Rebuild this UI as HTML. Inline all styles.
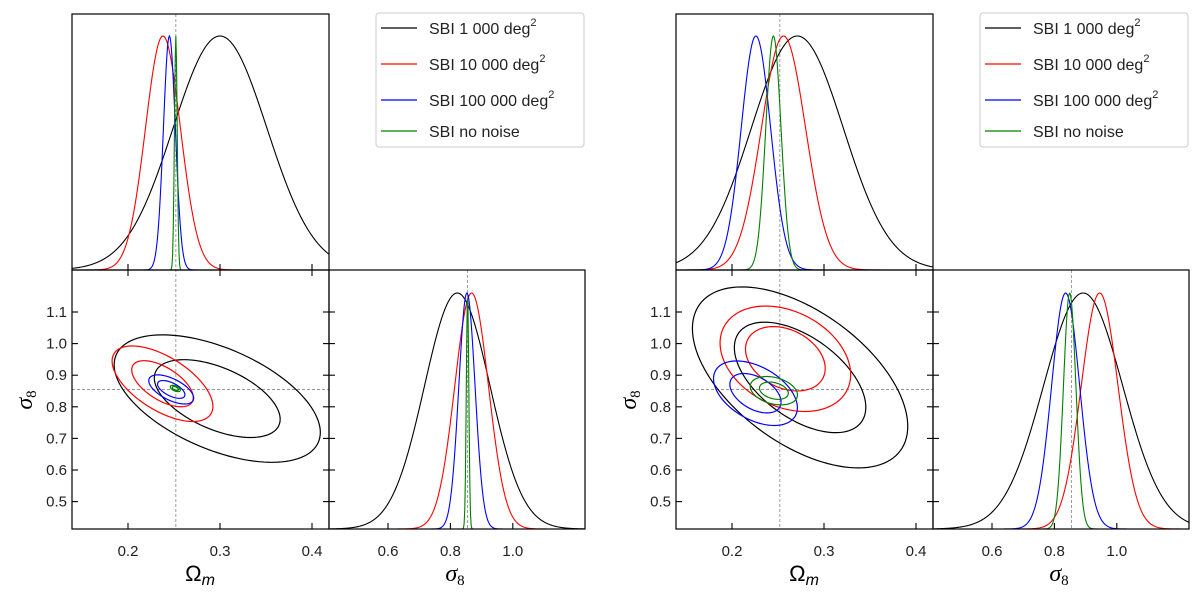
<!DOCTYPE html>
<html><head><meta charset="utf-8"><style>
html,body{margin:0;padding:0;background:#fff;}
svg{display:block;font-family:"Liberation Sans","DejaVu Sans",sans-serif;}
</style></head><body>
<svg id="chart" width="1200" height="596" viewBox="0 0 1200 596" xmlns="http://www.w3.org/2000/svg"></svg>
<script>
// ---- data ----
const seriesNames = ["SBI 1 000 deg", "SBI 10 000 deg", "SBI 100 000 deg", "SBI no noise"];
const seriesColors = ["#000000", "#ff0000", "#0000ff", "#008000"];
const truthOmega = 0.252;
const truthSigma = 0.855;
const omegaTicks = [0.2, 0.3, 0.4];
const sigmaYTicks = [0.5, 0.6, 0.7, 0.8, 0.9, 1.0, 1.1];
const sigmaXTicks = [0.6, 0.8, 1.0];
// left figure
const leftOmegaMean = [0.300, 0.238, 0.245, 0.252];
const leftOmegaSd = [0.051, 0.019, 0.0065, 0.0015];
const leftSigmaMean = [0.822, 0.868, 0.853, 0.855];
const leftSigmaSd = [0.105, 0.054, 0.026, 0.004];
const leftContCx = [0.297, 0.2375, 0.247, 0.2515];
const leftContCy = [0.826, 0.873, 0.855, 0.858];
const leftContSx = [0.045, 0.022, 0.0098, 0.0022];
const leftContSy = [0.081, 0.048, 0.0185, 0.004];
const leftContRho = [-0.53, -0.6, -0.6, -0.5];
// right figure
const rightOmegaMean = [0.271, 0.256, 0.226, 0.245];
const rightOmegaSd = [0.050, 0.024, 0.016, 0.0083];
const rightSigmaMean = [0.892, 0.945, 0.836, 0.849];
const rightSigmaSd = [0.127, 0.059, 0.045, 0.020];
const rightContCx = [0.274, 0.258, 0.2255, 0.2455];
const rightContCy = [0.893, 0.952, 0.843, 0.851];
const rightContSx = [0.047, 0.0285, 0.0183, 0.0103];
const rightContSy = [0.115, 0.067, 0.041, 0.018];
const rightContRho = [-0.54, -0.3, -0.45, -0.3];
const contourLevels = [1.52, 2.49];

const NS = "http://www.w3.org/2000/svg";
const svg = document.getElementById("chart");
function mk(tag, attrs, parent) {
  const e = document.createElementNS(NS, tag);
  for (const k in attrs) e.setAttribute(k, attrs[k]);
  (parent || svg).appendChild(e);
  return e;
}
const P = {x0: 72, x1: 329, x2: 585, yT: 14, yM: 270, yB: 529};
const OMIN = 0.139, OMAX = 0.418, SMIN = 0.415, SMAX = 1.232;
function fig(off, d, name) {
  const g = mk("g", {});
  
  
  const ox = v => off + 128 + (v - 0.2) * 920;
  const sy = v => 312 + (1.1 - v) * 316;
  const sx = v => off + 388 + (v - 0.6) * 312;
  const X0 = off + P.x0, X1 = off + P.x1, X2 = off + P.x2;
  const cid = name + "-clip";
  const cp = mk("clipPath", {id: cid}, g);
  mk("rect", {x: X0, y: P.yT, width: X1 - X0, height: P.yB - P.yT}, cp);
  const cid2 = name + "-clip2";
  const cp2 = mk("clipPath", {id: cid2}, g);
  mk("rect", {x: X1, y: P.yM, width: X2 - X1, height: P.yB - P.yM}, cp2);

  const dash = {stroke: "#888", "stroke-width": 0.8, "stroke-dasharray": "3,2", fill: "none"};
  let l = mk("line", Object.assign({x1: ox(truthOmega), x2: ox(truthOmega), y1: P.yT, y2: P.yB}, dash), g);
   
  l = mk("line", Object.assign({x1: X0, x2: X1, y1: sy(truthSigma), y2: sy(truthSigma)}, dash), g);
   
  l = mk("line", Object.assign({x1: sx(truthSigma), x2: sx(truthSigma), y1: P.yM, y2: P.yB}, dash), g);
   

  const peakTop = 36, peakBot = 293;
  for (let i = 0; i < 4; i++) {
    const col = seriesColors[i];
    let pts = [];
    for (let k = 0; k <= 400; k++) {
      const v = OMIN + (OMAX - OMIN) * k / 400;
      const z = (v - d.om[i]) / d.os[i];
      pts.push(ox(v).toFixed(2) + "," + (P.yM - (P.yM - peakTop) * Math.exp(-0.5 * z * z)).toFixed(2));
    }
    let p = mk("polyline", {points: pts.join(" "), fill: "none", stroke: col, "stroke-width": 1.1, "clip-path": "url(#" + cid + ")"}, g);
     
    pts = [];
    for (let k = 0; k <= 400; k++) {
      const v = SMIN + (SMAX - SMIN) * k / 400;
      const z = (v - d.sm[i]) / d.ss[i];
      pts.push(sx(v).toFixed(2) + "," + (P.yB - (P.yB - peakBot) * Math.exp(-0.5 * z * z)).toFixed(2));
    }
    p = mk("polyline", {points: pts.join(" "), fill: "none", stroke: col, "stroke-width": 1.1, "clip-path": "url(#" + cid2 + ")"}, g);
     
    for (const lev of contourLevels) {
      pts = [];
      const r = d.rho[i], q = Math.sqrt(1 - r * r);
      for (let k = 0; k <= 120; k++) {
        const t = 2 * Math.PI * k / 120;
        const vx = d.cx[i] + lev * d.sx[i] * Math.cos(t);
        const vy = d.cy[i] + lev * d.sy[i] * (r * Math.cos(t) + q * Math.sin(t));
        pts.push(ox(vx).toFixed(2) + "," + sy(vy).toFixed(2));
      }
      p = mk("polyline", {points: pts.join(" "), fill: "none", stroke: col, "stroke-width": 1.2, "clip-path": "url(#" + cid + ")"}, g);
       
    }
  }
  const fr = {fill: "none", stroke: "#000", "stroke-width": 1.2};
  let r = mk("rect", Object.assign({x: X0, y: P.yT, width: X1 - X0, height: P.yM - P.yT}, fr), g);
   
  r = mk("rect", Object.assign({x: X0, y: P.yM, width: X1 - X0, height: P.yB - P.yM}, fr), g);
   
  r = mk("rect", Object.assign({x: X1, y: P.yM, width: X2 - X1, height: P.yB - P.yM}, fr), g);
   
  const tk = {stroke: "#000", "stroke-width": 1.1};
  omegaTicks.forEach(v => {
    const x = ox(v);
    mk("line", Object.assign({x1: x, x2: x, y1: P.yM, y2: P.yM - 6}, tk), g);
    mk("line", Object.assign({x1: x, x2: x, y1: P.yM, y2: P.yM + 6}, tk), g);
    mk("line", Object.assign({x1: x, x2: x, y1: P.yB, y2: P.yB - 6}, tk), g);
    const t = mk("text", {x: x, y: 556, "font-size": 15, "text-anchor": "middle", fill: "#222"}, g);
    t.textContent = v.toFixed(1);
     
  });
  sigmaYTicks.forEach(v => {
    const y = sy(v);
    mk("line", Object.assign({x1: X0, x2: X0 + 6, y1: y, y2: y}, tk), g);
    mk("line", Object.assign({x1: X1, x2: X1 - 6, y1: y, y2: y}, tk), g);
    mk("line", Object.assign({x1: X1, x2: X1 + 6, y1: y, y2: y}, tk), g);
    const t = mk("text", {x: X0 - 5, y: y + 5, "font-size": 15, "text-anchor": "end", fill: "#222"}, g);
    t.textContent = v.toFixed(1);
     
  });
  sigmaXTicks.forEach(v => {
    const x = sx(v);
    mk("line", Object.assign({x1: x, x2: x, y1: P.yB, y2: P.yB - 6}, tk), g);
    const t = mk("text", {x: x, y: 556, "font-size": 15, "text-anchor": "middle", fill: "#222"}, g);
    t.textContent = v.toFixed(1);
     
  });
  let t = mk("text", {x: off + 200, y: 581, "font-size": 22, "text-anchor": "middle", fill: "#000"}, g);
  t.innerHTML = 'Ω<tspan font-style="italic" font-size="16" dy="4">m</tspan>';
   
  t = mk("text", {x: off + 455, y: 581, "font-size": 24, "text-anchor": "middle", fill: "#000", "font-family": "Liberation Serif, serif"}, g);
  t.innerHTML = '<tspan font-style="italic">σ</tspan><tspan font-size="15" dy="4">8</tspan>';
   
  t = mk("text", {x: 0, y: 0, "font-size": 24, "text-anchor": "middle", fill: "#000", transform: "translate(" + (off + 32) + ",400) rotate(-90)", "font-family": "Liberation Serif, serif"}, g);
  t.innerHTML = '<tspan font-style="italic">σ</tspan><tspan font-size="15" dy="4">8</tspan>';
   
  const lg = mk("g", {}, g);
   
  mk("rect", {x: off + 376, y: 13, width: 208, height: 134, rx: 3, fill: "#fff", stroke: "#ccc", "stroke-width": 1}, lg);
  const rowsY = [28, 64, 100, 131];
  for (let i = 0; i < 4; i++) {
    mk("line", {x1: off + 381, x2: off + 417, y1: rowsY[i], y2: rowsY[i], stroke: seriesColors[i], "stroke-width": 1.3}, lg);
    const tt = mk("text", {x: off + 429, y: rowsY[i] + 6, "font-size": 16, fill: "#222"}, lg);
     
    if (i < 3) tt.innerHTML = seriesNames[i] + '<tspan font-size="11" dy="-8">2</tspan>';
    else tt.textContent = seriesNames[i];
  }
}
fig(0, {om: leftOmegaMean, os: leftOmegaSd, sm: leftSigmaMean, ss: leftSigmaSd, cx: leftContCx, cy: leftContCy, sx: leftContSx, sy: leftContSy, rho: leftContRho}, "left-corner-plot");
fig(604, {om: rightOmegaMean, os: rightOmegaSd, sm: rightSigmaMean, ss: rightSigmaSd, cx: rightContCx, cy: rightContCy, sx: rightContSx, sy: rightContSy, rho: rightContRho}, "right-corner-plot");
</script>
</body></html>
